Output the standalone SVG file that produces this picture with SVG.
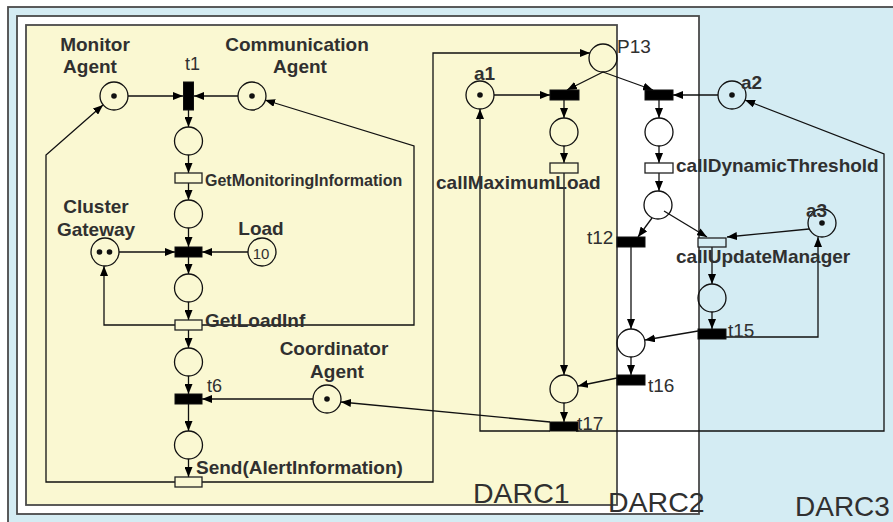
<svg xmlns="http://www.w3.org/2000/svg" width="893" height="522" viewBox="0 0 893 522">
<style>
.frame{stroke:#4a4a4a;stroke-width:1.8}
.pl{fill:none;stroke:#111;stroke-width:1.3}
.tb{fill:#000;stroke:#111;stroke-width:1}
.th{stroke:#222;stroke-width:1.3}
.tok{fill:#111}
.e{fill:none;stroke:#111;stroke-width:1.3;marker-end:url(#ah)}
.lb{font-family:"Liberation Sans",Arial,sans-serif;font-weight:bold;font-size:19px;fill:#303030}
.lr{font-family:"Liberation Sans",Arial,sans-serif;font-size:19px;fill:#303030}
.darc{font-family:"Liberation Sans",Arial,sans-serif;font-size:28.5px;fill:#303030}
</style>
<defs>
<marker id="ah" markerUnits="userSpaceOnUse" markerWidth="10" markerHeight="8" refX="10" refY="4" orient="auto">
<path d="M0,0 L10,4 L0,8 z" fill="#000"/>
</marker>
</defs>
<rect width="893" height="522" fill="#fff"/>
<g id="DARC3">
<rect class="frame" x="8" y="7" width="900" height="530" fill="#d4ecf3"/>
<text class="darc" x="795" y="516" style="font-size:28px">DARC3</text>
</g>
<g id="DARC2">
<rect class="frame" x="17" y="16" width="682" height="498" fill="#fff"/>
</g>
<g id="DARC1">
<rect class="frame" x="26" y="25" width="591" height="480" fill="#faf8d2"/>
<text class="darc" x="473" y="503">DARC1</text>
</g>
<text class="darc" x="608" y="512">DARC2</text>

<g id="connectors">
<path class="e" d="M128,96 L183,96"/>
<path class="e" d="M238,96 L194,96"/>
<path class="e" d="M188.5,110 L188.5,127"/>
<path class="e" d="M188.5,155 L188.5,173"/>
<path class="e" d="M188.5,183 L188.5,200"/>
<path class="e" d="M188.5,228 L188.5,247"/>
<path class="e" d="M119,252 L175,252"/>
<path class="e" d="M248,252 L202,252"/>
<path class="e" d="M188.5,257 L188.5,274"/>
<path class="e" d="M188.5,302 L188.5,320"/>
<path class="e" d="M188.5,330 L188.5,348"/>
<path class="e" d="M188.5,376 L188.5,394"/>
<path class="e" d="M313,399 L202,399"/>
<path class="e" d="M188.5,404 L188.5,431"/>
<path class="e" d="M188.5,459 L188.5,477"/>
<path class="e" d="M175,325 L104,325 L104,266"/>
<path class="e" d="M202,325 L414,325 L414,146 L265,100"/>
<path class="e" d="M175,482 L46,482 L46,155 L103,105"/>
<path class="e" d="M202,482 L433,482 L433,53 L590,53"/>
<path class="e" d="M603,72 L567,90"/>
<path class="e" d="M603,72 L653,90"/>
<path class="e" d="M494,95 L550,95"/>
<path class="e" d="M564,100 L564,118"/>
<path class="e" d="M564,146 L564,163"/>
<path class="e" d="M564,173 L564,375"/>
<path class="e" d="M617,378 L578,386"/>
<path class="e" d="M564,403 L564,422"/>
<path class="e" d="M550,422 L341,402"/>
<path class="e" d="M550,431 L480,431 L480,109"/>
<path class="e" d="M576,431 L884,431 L884,154 L745,100"/>
<path class="e" d="M718,95 L673,95"/>
<path class="e" d="M659,100 L659,118"/>
<path class="e" d="M659,146 L659,163"/>
<path class="e" d="M659,173 L659,191"/>
<path class="e" d="M652,218 L638,237"/>
<path class="e" d="M664,211 L707,237"/>
<path class="e" d="M809,229 L727,237"/>
<path class="e" d="M712,247 L712,284"/>
<path class="e" d="M712,312 L712,329"/>
<path class="e" d="M726,337 L818,337 L818,237"/>
<path class="e" d="M698,331 L645,340"/>
<path class="e" d="M631,247 L631,329"/>
<path class="e" d="M631,357 L631,375"/>
</g>

<g id="MonitorAgent">
<circle class="pl" cx="114" cy="96" r="14"/><circle class="tok" cx="114" cy="96" r="2.8"/>
<text class="lb" x="95" y="51" text-anchor="middle">Monitor</text>
<text class="lb" x="90" y="73" text-anchor="middle">Agent</text>
</g>
<g id="CommunicationAgent">
<circle class="pl" cx="252" cy="96" r="14"/><circle class="tok" cx="252" cy="96" r="2.8"/>
<text class="lb" x="297" y="51" text-anchor="middle">Communication</text>
<text class="lb" x="300" y="73" text-anchor="middle">Agent</text>
</g>
<g id="t1">
<rect class="tb" x="183.5" y="82" width="10" height="28"/>
<text class="lr" x="185" y="70" style="font-size:18px">t1</text>
</g>
<g id="p1"><circle class="pl" cx="188.5" cy="141" r="14"/></g>
<g id="GetMonitoringInformation">
<rect class="th" x="175" y="173" width="27" height="10" fill="#faf8d2"/>
<text class="lb" x="205" y="186" style="font-size:16px">GetMonitoringInformation</text>
</g>
<g id="p2"><circle class="pl" cx="188.5" cy="214" r="14"/></g>
<g id="ClusterGateway">
<circle class="pl" cx="105" cy="252" r="14"/>
<circle class="tok" cx="99.5" cy="252" r="2.8"/><circle class="tok" cx="109.5" cy="252" r="2.8"/>
<text class="lb" x="96" y="213" text-anchor="middle">Cluster</text>
<text class="lb" x="96" y="236" text-anchor="middle">Gateway</text>
</g>
<g id="Load">
<circle class="pl" cx="262" cy="252" r="14"/>
<text class="lr" x="261" y="259" text-anchor="middle" style="font-size:15px">10</text>
<text class="lb" x="261" y="235" text-anchor="middle">Load</text>
</g>
<g id="tLoad"><rect class="tb" x="175" y="247" width="27" height="10"/></g>
<g id="p3"><circle class="pl" cx="188.5" cy="288" r="14"/></g>
<g id="GetLoadInf">
<rect class="th" x="175" y="320" width="27" height="10" fill="#faf8d2"/>
<text class="lb" x="205" y="327">GetLoadInf</text>
</g>
<g id="p4"><circle class="pl" cx="188.5" cy="362" r="14"/></g>
<g id="t6">
<rect class="tb" x="175" y="394" width="27" height="10"/>
<text class="lr" x="207" y="392" style="font-size:18px">t6</text>
</g>
<g id="CoordinatorAgent">
<circle class="pl" cx="327" cy="399" r="14"/><circle class="tok" cx="327" cy="399" r="2.8"/>
<text class="lb" x="334" y="355" text-anchor="middle">Coordinator</text>
<text class="lb" x="337" y="378" text-anchor="middle">Agent</text>
</g>
<g id="p5"><circle class="pl" cx="188.5" cy="445" r="14"/></g>
<g id="SendAlertInformation">
<rect class="th" x="175" y="477" width="27" height="10" fill="#faf8d2"/>
<text class="lb" x="196" y="474">Send(AlertInformation)</text>
</g>

<g id="P13">
<circle class="pl" cx="603" cy="58" r="14"/>
<text class="lr" x="617" y="53">P13</text>
</g>
<g id="a1">
<circle class="pl" cx="480" cy="95" r="14"/><circle class="tok" cx="480" cy="95" r="2.8"/>
<text class="lb" x="474" y="80">a1</text>
</g>
<g id="tA1"><rect class="tb" x="550" y="90" width="29" height="10"/></g>
<g id="p6"><circle class="pl" cx="564" cy="132" r="14"/></g>
<g id="callMaximumLoad">
<rect class="th" x="550" y="163" width="28" height="10" fill="#faf8d2"/>
<text class="lb" x="436" y="189">callMaximumLoad</text>
</g>
<g id="p7"><circle class="pl" cx="564" cy="389" r="14"/></g>
<g id="t17">
<rect class="tb" x="550" y="422" width="28" height="9"/>
<text class="lr" x="577" y="430">t17</text>
</g>
<g id="a2">
<circle class="pl" cx="732" cy="95" r="14"/><circle class="tok" cx="732" cy="95" r="2.8"/>
<text class="lb" x="741" y="89">a2</text>
</g>
<g id="tA2"><rect class="tb" x="645" y="90" width="28" height="10"/></g>
<g id="p8"><circle class="pl" cx="659" cy="132" r="14"/></g>
<g id="callDynamicThreshold">
<rect class="th" x="645" y="163" width="28" height="10" fill="#fff"/>
<text class="lb" x="676" y="172">callDynamicThreshold</text>
</g>
<g id="p9"><circle class="pl" cx="658" cy="205" r="14"/></g>
<g id="t12">
<rect class="tb" x="617" y="237" width="28" height="10"/>
<text class="lr" x="587" y="244">t12</text>
</g>
<g id="a3">
<circle class="pl" cx="822" cy="223" r="14"/><circle class="tok" cx="822" cy="223" r="2.8"/>
<text class="lb" x="806" y="217">a3</text>
</g>
<g id="callUpdateManager">
<rect class="th" x="698" y="238" width="28" height="9" fill="#d4ecf3"/>
<text class="lb" x="676" y="263">callUpdateManager</text>
</g>
<g id="p10"><circle class="pl" cx="712" cy="298" r="14"/></g>
<g id="t15">
<rect class="tb" x="698" y="329" width="28" height="10"/>
<text class="lr" x="728" y="337">t15</text>
</g>
<g id="p11"><circle class="pl" cx="631" cy="343" r="14"/></g>
<g id="t16">
<rect class="tb" x="617" y="375" width="28" height="10"/>
<text class="lr" x="648" y="392">t16</text>
</g>
</svg>
